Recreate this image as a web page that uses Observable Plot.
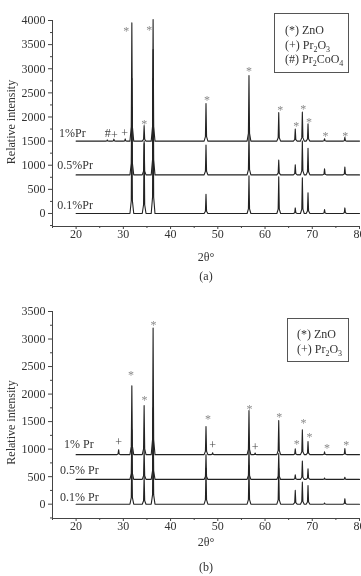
<!DOCTYPE html>
<html><head><meta charset="utf-8">
<script src="https://cdn.jsdelivr.net/npm/d3@7"></script>
<script src="https://cdn.jsdelivr.net/npm/@observablehq/plot@0.6"></script>
<style>
body{margin:0;background:#fff;}
#wrap{position:relative;width:361px;height:576px;font-family:"Liberation Serif","Times New Roman",serif;filter:grayscale(1);}
#wrap svg{display:block;}
.legend{position:absolute;border:1px solid #555;box-sizing:border-box;font-size:12px;color:#333;line-height:14.5px;}
.legend sub{font-size:8px;vertical-align:-3px;line-height:0;}
</style></head><body><div id="wrap"></div>
<script>
// ---- data ----
const znoPos = [31.8, 34.4, 36.3, 47.5, 56.6, 62.9, 66.4, 67.9, 69.1, 72.6, 76.9];

// Panel (a): baselines and peak heights above baseline
const aSeries = ["1%Pr", "0.5%Pr", "0.1%Pr"];
const aBase = [1500, 800, 0];
const aH1 = [2450, 320, 2520, 780, 1360, 590, 250, 600, 360, 50, 80];
const aH05 = [2000, 650, 2600, 620, 900, 305, 210, 700, 550, 125, 160];
const aH01 = [2200, 1500, 2800, 400, 780, 760, 115, 740, 430, 80, 115];
const aPrPos = [26.6, 28.0, 30.4];
const aPrH1 = [25, 40, 45];
const aLabelX = [16.4, 16.0, 16.0];
const aLabelY = [1669, 1000, 172];
const aStarX = [30.6, 35.5, 34.4, 47.7, 56.6, 63.2, 66.6, 68.1, 69.3, 72.8, 77.0];
const aStarY = [3840, 3863, 1911, 2414, 3014, 2207, 1876, 2222, 1946, 1656, 1669];
const aMarkX = [26.7, 28.1, 30.3];
const aMarkY = [1656, 1625, 1660];
const aMarkText = ["#", "+", "+"];
const aYTicks = [0, 500, 1000, 1500, 2000, 2500, 3000, 3500, 4000];
const aYMinor = [-250, 250, 750, 1250, 1750, 2250, 2750, 3250, 3750];

// Panel (b)
const bSeries = ["1% Pr", "0.5% Pr", "0.1% Pr"];
const bBase = [900, 450, 0];
const bH1 = [1250, 890, 2300, 510, 800, 620, 104, 450, 237, 50, 110];
const bH05 = [900, 550, 1300, 450, 600, 470, 85, 335, 195, 25, 40];
const bH01 = [1000, 520, 1400, 650, 700, 650, 250, 400, 340, 20, 100];
const bPrPos = [29.0, 48.9, 57.9];
const bPrH1 = [90, 35, 30];
const bLabelX = [17.45, 16.6, 16.6];
const bLabelY = [1083, 612, 127];
const bStarX = [31.6, 34.5, 36.4, 47.9, 56.7, 63.0, 66.7, 68.15, 69.4, 73.1, 77.2];
const bStarY = [2396, 1936, 3303, 1597, 1779, 1640, 1138, 1519, 1278, 1078, 1125];
const bMarkX = [29.0, 48.9, 57.9];
const bMarkY = [1125, 1065, 1035];
const bMarkText = ["+", "+", "+"];
const bYTicks = [0, 500, 1000, 1500, 2000, 2500, 3000, 3500];
const bYMinor = [-250, 250, 750, 1250, 1750, 2250, 2750, 3250];

const xTicks = [20, 30, 40, 50, 60, 70, 80];
const xMinor = [15, 25, 35, 45, 55, 65, 75];

// ---- build traces ----
const W = 0.4;
function trace(name, base, pos, h, extraPos = [], extraH = []) {
  const peaks = pos.map((p, i) => [p, h[i]])
    .concat(extraPos.map((p, i) => [p, extraH[i]]))
    .sort((a, b) => a[0] - b[0]);
  const pts = [{s: name, x: 20, y: base}];
  for (const [p, hh] of peaks) {
    pts.push({s: name, x: p - W, y: base});
    pts.push({s: name, x: p - W * 0.3, y: base + hh * 0.12});
    pts.push({s: name, x: p, y: base + hh});
    pts.push({s: name, x: p + W * 0.3, y: base + hh * 0.12});
    pts.push({s: name, x: p + W, y: base});
  }
  pts.push({s: name, x: 80, y: base});
  return pts;
}
const aData = [
  ...trace(aSeries[2], aBase[2], znoPos, aH01),
  ...trace(aSeries[1], aBase[1], znoPos, aH05),
  ...trace(aSeries[0], aBase[0], znoPos, aH1, aPrPos, aPrH1)
];
const bData = [
  ...trace(bSeries[2], bBase[2], znoPos, bH01),
  ...trace(bSeries[1], bBase[1], znoPos, bH05),
  ...trace(bSeries[0], bBase[0], znoPos, bH1, bPrPos, bPrH1)
];

const FONT = '"Liberation Serif","Times New Roman",serif';

function panel({data, yDomain, yTicks, yMinor, series, labelX, labelY, starX, starY, markX, markY, markText,
                marginTop, marginBottom, xLabelDy, capDy, capText, yLabelDy}) {
  return Plot.plot({
    width: 361, height: 288,
    marginLeft: 52, marginRight: 2, marginTop, marginBottom,
    x: {domain: [15, 80]},
    y: {domain: yDomain},
    style: {fontFamily: FONT, fontSize: "12px", color: "#333", background: "white"},
    marks: [
      Plot.ruleX([15], {stroke: "#444"}),
      Plot.ruleY([yDomain[0]], {stroke: "#444"}),
      Plot.axisY(yTicks, {tickSize: 4, tickPadding: 3, label: null, stroke: "#444", tickFormat: d => String(d)}),
      Plot.axisY(yMinor, {tickSize: 2, tickFormat: () => "", label: null, stroke: "#444"}),
      Plot.axisX(xTicks, {tickSize: 3, tickPadding: 0, label: null, stroke: "#444", tickFormat: d => String(d)}),
      Plot.axisX(xMinor, {tickSize: 2, tickFormat: () => "", label: null, stroke: "#444"}),
      Plot.line(data, {x: "x", y: "y", z: "s", stroke: "#222", strokeWidth: 1.1}),
      Plot.text(series, {x: (d, i) => labelX[i], y: (d, i) => labelY[i], text: d => d,
        textAnchor: "start", fill: "#333", fontSize: 12}),
      Plot.text(starX, {x: d => d, y: (d, i) => starY[i], text: () => "*", fill: "#8a8a8a", fontSize: 12, dy: 3}),
      Plot.text(markText, {x: (d, i) => markX[i], y: (d, i) => markY[i], text: d => d, fill: "#444", fontSize: 12}),
      Plot.text(["2θ°"], {frameAnchor: "bottom", lineAnchor: "middle", textAnchor: "middle", dy: xLabelDy, fill: "#333", fontSize: 12}),
      Plot.text([capText], {frameAnchor: "bottom", lineAnchor: "middle", textAnchor: "middle", dy: capDy, fill: "#333", fontSize: 12}),
      Plot.text(["Relative intensity"], {frameAnchor: "left", textAnchor: "middle", lineAnchor: "middle", rotate: -90, dx: -41, dy: yLabelDy, fill: "#333", fontSize: 12})
    ]
  });
}

const wrap = document.getElementById("wrap");
wrap.appendChild(panel({
  data: aData, yDomain: [-270, 4000], yTicks: aYTicks, yMinor: aYMinor, series: aSeries,
  labelX: aLabelX, labelY: aLabelY, starX: aStarX, starY: aStarY,
  markX: aMarkX, markY: aMarkY, markText: aMarkText,
  marginTop: 20, marginBottom: 62, xLabelDy: 31, capDy: 50, capText: "(a)", yLabelDy: -1.5
}));
wrap.appendChild(panel({
  data: bData, yDomain: [-260, 3500], yTicks: bYTicks, yMinor: bYMinor, series: bSeries,
  labelX: bLabelX, labelY: bLabelY, starX: bStarX, starY: bStarY,
  markX: bMarkX, markY: bMarkY, markText: bMarkText,
  marginTop: 23, marginBottom: 58, xLabelDy: 24, capDy: 49, capText: "(b)", yLabelDy: 7.5
}));

const legA = document.createElement("div");
legA.className = "legend";
legA.style.cssText = "left:274px;top:13px;width:75px;height:60px;padding:9px 0 0 10px;";
legA.innerHTML = "<div>(*) ZnO</div><div>(+) Pr<sub>2</sub>O<sub>3</sub></div><div>(#) Pr<sub>2</sub>CoO<sub>4</sub></div>";
wrap.appendChild(legA);
const legB = document.createElement("div");
legB.className = "legend";
legB.style.cssText = "left:287px;top:318px;width:62px;height:44px;padding:8px 0 0 9px;";
legB.innerHTML = "<div>(*) ZnO</div><div>(+) Pr<sub>2</sub>O<sub>3</sub></div>";
wrap.appendChild(legB);
</script>
</body></html>
